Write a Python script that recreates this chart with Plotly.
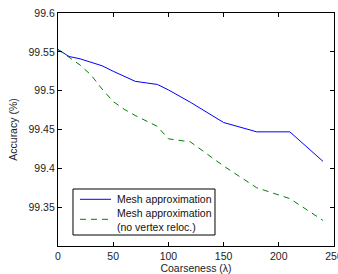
import plotly.graph_objects as go

lam_blue = [0, 10, 20, 30, 40, 50, 60, 70, 80, 90, 100, 120, 150, 180, 210, 240]
acc_blue = [99.553, 99.544, 99.541, 99.537, 99.532, 99.525, 99.519, 99.512, 99.510, 99.508,
            99.501, 99.485, 99.459, 99.447, 99.447, 99.409]

lam_green = [0, 10, 20, 30, 40, 50, 60, 70, 80, 90, 100, 110, 120, 150, 180, 210, 240]
acc_green = [99.553, 99.543, 99.533, 99.520, 99.502, 99.486, 99.476, 99.468, 99.461, 99.454,
             99.438, 99.436, 99.434, 99.403, 99.375, 99.361, 99.333]

x_ticks = [0, 50, 100, 150, 200, 250]
y_ticks = [99.35, 99.4, 99.45, 99.5, 99.55, 99.6]
y_labels = ["99.35", "99.4", "99.45", "99.5", "99.55", "99.6"]

names = ["Mesh approximation", "Mesh approximation<br>(no vertex reloc.)"]
colors = ["#0000ff", "#008000"]
dashes = ["solid", "6px,5px"]

FONT = "Liberation Sans, Arial, Helvetica"
FS = 10.5

fig = go.Figure()
fig.add_trace(go.Scatter(x=lam_blue, y=acc_blue, mode="lines", name=names[0],
                         line=dict(color=colors[0], width=1, dash=dashes[0])))
fig.add_trace(go.Scatter(x=lam_green, y=acc_green, mode="lines", name=names[1],
                         line=dict(color=colors[1], width=1, dash=dashes[1])))

axis_common = dict(showgrid=False, zeroline=False, showline=True, linecolor="black",
                   linewidth=1.3, mirror="ticks", ticks="inside", ticklen=4,
                   tickcolor="black", ticklabeloverflow="allow", automargin=False,
                   tickfont=dict(family=FONT, size=FS, color="#222"))

# legend drawn as a boxed key in paper coordinates
box = dict(x0=0.0543, x1=0.5688, y0=0.0472, y1=0.2446)
row_y = [0.2004, 0.1146]
text_y = [0.2004, 0.1104]
shapes = [dict(type="rect", xref="paper", yref="paper", fillcolor="white",
               line=dict(color="black", width=1), **box)]
annotations = []
for i in range(2):
    shapes.append(dict(type="line", xref="paper", yref="paper", x0=0.0797, x1=0.1920,
                       y0=row_y[i], y1=row_y[i],
                       line=dict(color=colors[i], width=1, dash=dashes[i])))
    annotations.append(dict(xref="paper", yref="paper", x=0.2065, y=text_y[i],
                            xanchor="left", yanchor="middle", showarrow=False, align="left",
                            text=names[i], font=dict(family=FONT, size=FS, color="#111")))

fig.update_layout(
    template="none",
    width=338, height=274,
    margin=dict(l=58, r=4, t=13, b=28, autoexpand=False),
    paper_bgcolor="white", plot_bgcolor="white",
    font=dict(family=FONT, size=FS, color="#222"),
    xaxis=dict(range=[0, 250], tickvals=x_ticks,
               title=dict(text="Coarseness (λ)", standoff=1, font=dict(size=FS)), **axis_common),
    yaxis=dict(range=[99.3, 99.6], tickvals=y_ticks, ticktext=y_labels,
               title=dict(text="Accuracy (%)", standoff=8, font=dict(size=FS)), **axis_common),
    shapes=shapes,
    annotations=annotations,
    showlegend=False,
)

fig.write_html(
    "out.html",
    config={"displayModeBar": False},
    post_script="document.documentElement.style.overflow='hidden';"
                "document.body.style.margin='0';document.body.style.overflow='hidden';"
                "var d=document.getElementById('{plot_id}');d.style.overflow='hidden';"
                "d.style.width='338px';d.style.height='274px';",
)
